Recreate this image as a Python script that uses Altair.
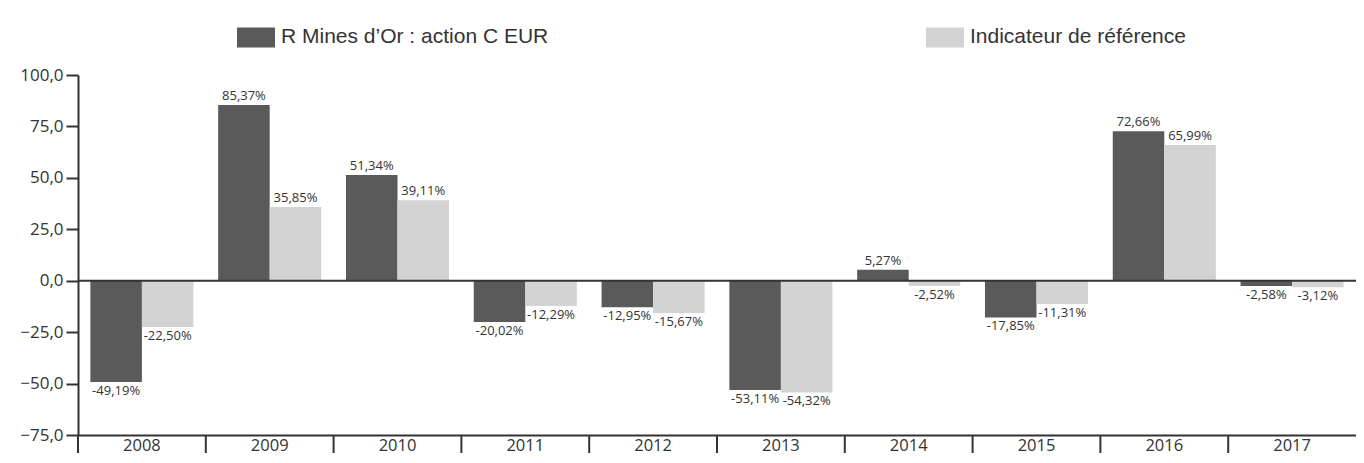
import altair as alt
import pandas as pd

years = ["2008", "2009", "2010", "2011", "2012", "2013", "2014", "2015", "2016", "2017"]
fund = [-49.19, 85.37, 51.34, -20.02, -12.95, -53.11, 5.27, -17.85, 72.66, -2.58]
bench = [-22.50, 35.85, 39.11, -12.29, -15.67, -54.32, -2.52, -11.31, 65.99, -3.12]
series_names = ["R Mines d’Or : action C EUR", "Indicateur de référence"]
y_ticks = [-75, -50, -25, 0, 25, 50, 75, 100]
colors = ["#5a5a5a", "#d3d3d3"]

rows = []
for i, yr in enumerate(years):
    for name, vals in zip(series_names, [fund, bench]):
        v = vals[i]
        rows.append({
            "year": yr,
            "series": name,
            "value": v,
            "label": f"{v:.2f}".replace(".", ",") + "%",
            "pos": v >= 0,
        })
df = pd.DataFrame(rows)

W, H = 1278, 360
FONT = "Open Sans"
TXT = "#333333"

x_enc = alt.X("year:N", sort=years,
              scale=alt.Scale(paddingInner=0, paddingOuter=0),
              axis=alt.Axis(title=None, ticks=False, domain=True, domainColor=TXT,
                            domainWidth=2, labelFont=FONT, labelFontSize=16.5,
                            labelColor=TXT, labelPadding=2, labelAngle=0))
xo_enc = alt.XOffset("series:N", sort=series_names,
                     scale=alt.Scale(paddingInner=0, paddingOuter=0.24))
y_enc = alt.Y("value:Q",
              scale=alt.Scale(domain=[-75, 100], nice=False, zero=False),
              axis=alt.Axis(title=None, values=y_ticks, grid=False,
                            labelExpr="replace(format(datum.value, '.1f'), '.', ',')",
                            tickSize=12, tickWidth=2, tickColor=TXT,
                            domainColor=TXT, domainWidth=2,
                            labelFont=FONT, labelFontSize=17, labelColor=TXT,
                            labelPadding=3))

base = alt.Chart(df)

bars = base.mark_bar().encode(
    x=x_enc,
    xOffset=xo_enc,
    y=y_enc,
    color=alt.Color("series:N", sort=series_names,
                    scale=alt.Scale(domain=series_names, range=colors),
                    legend=alt.Legend(
                        title=None, orient="none", direction="horizontal",
                        legendX=159, legendY=-57,
                        symbolType="M-1,-0.53L1,-0.53L1,0.53L-1,0.53Z",
                        symbolSize=1444, symbolStrokeWidth=0, symbolOpacity=1,
                        labelFont="Liberation Sans", labelFontSize=21,
                        labelColor=TXT, labelOffset=6, labelLimit=600,
                        columnPadding=377)),
)

pos_text = base.transform_filter("datum.pos").mark_text(
    baseline="bottom", dy=-2, font=FONT, fontSize=13, color=TXT
).encode(x=x_enc, xOffset=xo_enc, y=y_enc, text="label:N")

neg_text = base.transform_filter("!datum.pos").mark_text(
    baseline="top", dy=3, font=FONT, fontSize=13, color=TXT
).encode(x=x_enc, xOffset=xo_enc, y=y_enc, text="label:N")

zero = alt.Chart(pd.DataFrame({"v": [0]})).mark_rule(
    color=TXT, strokeWidth=2
).encode(y=alt.Y("v:Q"))

seps = alt.Chart(pd.DataFrame({"year": years})).mark_rule(
    color=TXT, strokeWidth=2
).encode(
    x=alt.X("year:N", sort=years, bandPosition=0),
    y=alt.value(H), y2=alt.value(H + 18),
)

chart = alt.layer(bars, zero, pos_text, neg_text, seps).properties(
    width=W, height=H,
    autosize=alt.AutoSizeParams(type="none"),
    padding={"left": 70, "top": 67, "right": 0, "bottom": 20},
).configure_view(stroke=None)

chart.save("out.html", embed_options={"renderer": "svg", "actions": False})
